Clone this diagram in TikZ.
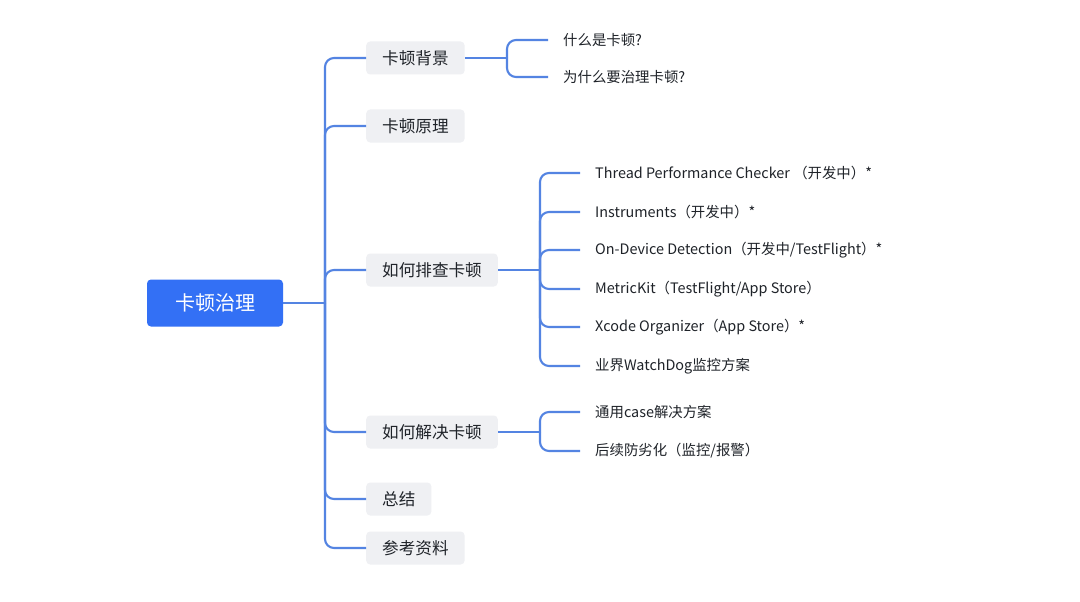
\documentclass[tikz,border=0pt]{standalone}
\usepackage{fontspec}
\setmainfont{Noto Sans CJK SC}
\definecolor{rootblue}{RGB}{51,112,245}
\definecolor{linkblue}{RGB}{84,132,226}
\definecolor{boxgray}{RGB}{239,240,243}
\definecolor{ink}{RGB}{31,35,41}
\begin{document}
\begin{tikzpicture}[x=1pt,y=-1pt,
  rootbox/.style={fill=rootblue, text=white, rounded corners=4pt, minimum width=136pt, minimum height=47pt, inner sep=0pt, font=\fontsize{20}{24}\selectfont},
  topicbox/.style={fill=boxgray, text=ink, rounded corners=4pt, minimum height=33pt, inner xsep=16pt, inner ysep=0pt, anchor=west, font=\fontsize{16.6}{20}\selectfont},
  leaf/.style={anchor=west, text=ink, inner xsep=15pt, inner ysep=0pt, font=\fontsize{14.4}{18}\selectfont},
  link/.style={draw=linkblue, line width=2.1pt, rounded corners=9pt}]
\useasboundingbox[fill=white] (0,0) rectangle (1080,602);

% root
\node[rootbox] (root) at (215,303) {卡顿治理};

% topics
\node[topicbox] (bg) at (366,58) {卡顿背景};
\node[topicbox] (yl) at (366,126) {卡顿原理};
\node[topicbox] (pc) at (366,270) {如何排查卡顿};
\node[topicbox] (jj) at (366,432) {如何解决卡顿};
\node[topicbox] (zj) at (366,499) {总结};
\node[topicbox] (ck) at (366,548) {参考资料};

% junctions
\coordinate (j0) at (325,303);
\coordinate (jbg) at (507,58);
\coordinate (jpc) at (540,270);
\coordinate (jjj) at (540,432);

% leaves
\node[leaf] (q1) at (548,40) {什么是卡顿?};
\node[leaf] (q2) at (548,77) {为什么要治理卡顿?};

\node[leaf] (p1) at (580,173) {Thread Performance Checker （开发中）*};
\node[leaf] (p2) at (580,212) {Instruments（开发中）*};
\node[leaf] (p3) at (580,250) {On-Device Detection（开发中/TestFlight）*};
\node[leaf] (p4) at (580,289) {MetricKit（TestFlight/App Store）};
\node[leaf] (p5) at (580,327) {Xcode Organizer（App Store）*};
\node[leaf] (p6) at (580,366) {业界WatchDog监控方案};

\node[leaf] (s1) at (580,412) {通用case解决方案};
\node[leaf] (s2) at (580,451) {后续防劣化（监控/报警）};

% connectors
\draw[link] (root.east) -- (j0);
\foreach \t in {bg,yl,pc,jj,zj,ck} \draw[link] (j0) |- (\t.west);

\draw[link] (bg.east) -- (jbg);
\foreach \t in {q1,q2} \draw[link] (jbg) |- (\t.west);

\draw[link] (pc.east) -- (jpc);
\foreach \t in {p1,p2,p3,p4,p5,p6} \draw[link] (jpc) |- (\t.west);

\draw[link] (jj.east) -- (jjj);
\foreach \t in {s1,s2} \draw[link] (jjj) |- (\t.west);
\end{tikzpicture}
\end{document}
